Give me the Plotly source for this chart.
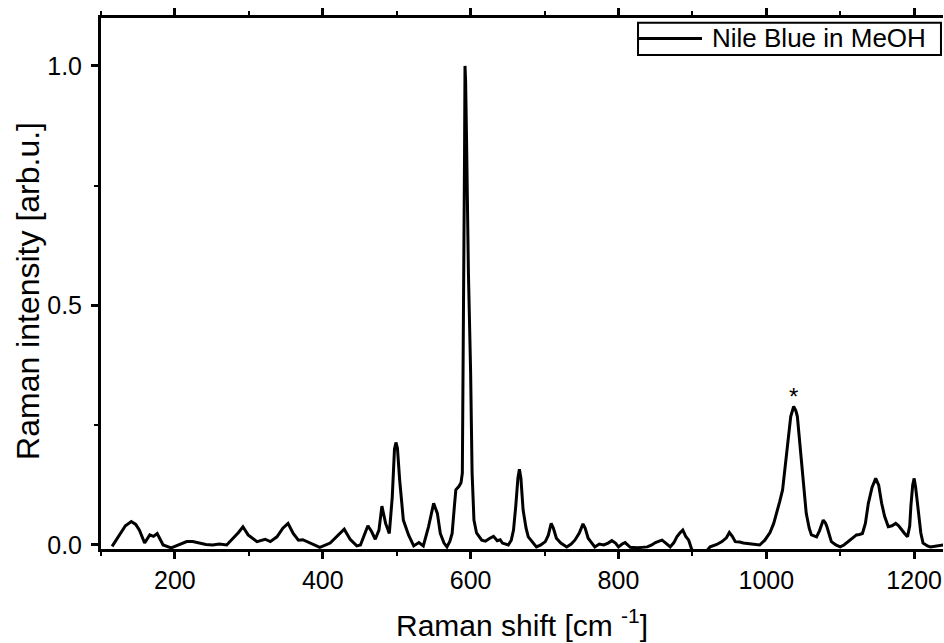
import plotly.graph_objects as go

series_name = "Nile Blue in MeOH"

raman_shift = [
    115, 125, 133, 141, 147, 152, 159, 166, 171, 176, 184, 195, 204, 210, 216, 224, 234, 242, 251, 260,
    270, 279, 286, 292, 299, 311, 322, 329, 338, 346, 353, 360, 367, 373, 383, 396, 410, 417, 429, 437,
    446, 451, 456, 461, 466, 471, 476, 480, 485, 490, 494, 497, 499, 501, 504, 509, 516, 523, 530, 536,
    543, 550, 555, 559, 564, 568, 572, 575, 578, 580, 584, 587, 588.8, 590, 591, 591.8, 592.4, 593.2, 594.5, 597,
    600, 602, 604.5, 608, 615, 620, 626, 631, 636, 640, 643, 651, 655, 658, 661, 664, 666, 668, 671, 675,
    678, 684, 689, 695, 701, 705, 709, 712, 716, 722, 730, 736, 741, 747, 752, 755, 759, 764, 768, 774,
    780, 786, 791, 796, 800, 805, 809, 816, 825, 832, 839, 845, 850, 855, 859, 864, 870, 875, 879, 883,
    887, 891, 895, 899, 905, 915, 924, 933, 940, 946, 950, 954, 958, 964, 969, 980, 991, 998, 1005, 1010,
    1014, 1018, 1022, 1027, 1030, 1033, 1037, 1040, 1042, 1045, 1048, 1051, 1054, 1058, 1061, 1068, 1072, 1077, 1080, 1082,
    1085, 1088, 1094, 1100, 1105, 1111, 1117, 1122, 1126, 1130, 1134, 1138, 1143, 1148, 1152, 1156, 1160, 1165, 1170, 1175,
    1179, 1183, 1187, 1191, 1194, 1195.5, 1198, 1200, 1202, 1206, 1209, 1212, 1218, 1222, 1230, 1240,
]

raman_intensity = [
    -0.003, 0.021, 0.040, 0.049, 0.043, 0.031, 0.004, 0.021, 0.018, 0.024, 0.000, -0.006, 0.000, 0.003, 0.007, 0.007, 0.004, 0.001, 0.000, 0.002,
    0.000, 0.014, 0.026, 0.038, 0.021, 0.007, 0.012, 0.007, 0.017, 0.035, 0.045, 0.024, 0.010, 0.011, 0.004, -0.005, 0.004, 0.014, 0.033, 0.012,
    -0.002, 0.000, 0.022, 0.040, 0.028, 0.012, 0.031, 0.081, 0.045, 0.024, 0.100, 0.200, 0.214, 0.202, 0.136, 0.052, 0.021, -0.002, 0.005, -0.002,
    0.038, 0.087, 0.066, 0.024, 0.004, -0.004, 0.008, 0.024, 0.080, 0.115, 0.122, 0.130, 0.150, 0.360, 0.570, 0.820, 1.000, 0.970, 0.845, 0.570,
    0.360, 0.150, 0.052, 0.025, 0.010, 0.008, 0.014, 0.018, 0.009, 0.011, 0.004, 0.000, 0.010, 0.031, 0.080, 0.140, 0.158, 0.140, 0.073, 0.035,
    0.017, 0.006, -0.004, 0.000, 0.007, 0.020, 0.045, 0.035, 0.014, 0.004, -0.004, 0.002, 0.010, 0.025, 0.044, 0.035, 0.014, 0.004, -0.004, 0.002,
    0.000, 0.004, 0.009, 0.004, -0.004, 0.002, 0.005, -0.005, -0.006, -0.005, -0.004, 0.000, 0.005, 0.008, 0.010, 0.004, -0.004, 0.005, 0.017, 0.025,
    0.031, 0.018, 0.010, -0.009, -0.020, -0.020, -0.004, 0.001, 0.007, 0.015, 0.026, 0.018, 0.007, 0.006, 0.004, 0.002, 0.000, 0.010, 0.026, 0.045,
    0.066, 0.090, 0.115, 0.184, 0.230, 0.268, 0.289, 0.280, 0.268, 0.220, 0.171, 0.110, 0.066, 0.035, 0.021, 0.017, 0.030, 0.052, 0.046, 0.038,
    0.020, 0.007, 0.000, -0.004, 0.000, 0.007, 0.014, 0.021, 0.022, 0.024, 0.045, 0.087, 0.120, 0.139, 0.125, 0.087, 0.060, 0.038, 0.040, 0.045,
    0.040, 0.031, 0.024, 0.017, 0.040, 0.080, 0.125, 0.139, 0.120, 0.066, 0.025, 0.004, -0.002, -0.004, -0.002, 0.000,
]

x_title = "Raman shift [cm <sup>-1</sup>]"
y_title = "Raman intensity [arb.u.]"
marker_label = "*"
marker_pos = (1037, 0.309)

FONT = "Liberation Sans, Arial, sans-serif"

fig = go.Figure()
fig.add_trace(go.Scatter(
    x=raman_shift, y=raman_intensity, mode="lines", name=series_name,
    line=dict(color="black", width=3), showlegend=False,
))

axis_common = dict(
    showline=True, linecolor="black", linewidth=3,
    ticks="outside", tickcolor="black", tickwidth=2.5, ticklen=7,
    showgrid=False, zeroline=False,
    tickfont=dict(family=FONT, size=25, color="black"),
)

fig.update_xaxes(
    **axis_common, range=[100, 1239], tick0=0, dtick=200, mirror="ticks",
    minor=dict(dtick=100, ticks="outside", ticklen=4, tickwidth=2, tickcolor="black"),
)
fig.update_yaxes(
    **axis_common, range=[-0.0084, 1.1], tick0=0, dtick=0.5, tickformat=".1f",
    ticklabelstandoff=4,
    minor=dict(dtick=0.25, ticks="outside", ticklen=4, tickwidth=2, tickcolor="black"),
)

# legend box drawn manually
fig.add_shape(type="rect", xref="paper", yref="paper", x0=0.6378, x1=0.9976, y0=0.9303, y1=0.9911,
              line=dict(color="black", width=2), fillcolor="white", layer="above")
fig.add_shape(type="line", xref="paper", yref="paper", x0=0.639, x1=0.7138, y0=0.9614, y1=0.9614,
              line=dict(color="black", width=3), layer="above")
fig.add_annotation(text=series_name, xref="paper", yref="paper", x=0.7233, y=0.9614,
                   xanchor="left", yanchor="middle", showarrow=False,
                   font=dict(family=FONT, size=26, color="black"))

fig.add_annotation(text=x_title, xref="paper", yref="paper", x=0.5, y=-0.14,
                   xanchor="center", yanchor="middle", showarrow=False,
                   font=dict(family=FONT, size=30, color="black"))
fig.add_annotation(text=y_title, xref="paper", yref="paper", x=-0.0867, y=0.486,
                   xanchor="center", yanchor="middle", textangle=-90, showarrow=False,
                   font=dict(family=FONT, size=32, color="black"))
fig.add_annotation(text=marker_label, x=marker_pos[0], y=marker_pos[1], xref="x", yref="y",
                   xanchor="center", yanchor="middle", showarrow=False,
                   font=dict(family=FONT, size=24, color="black"))

fig.update_layout(
    width=944, height=643,
    margin=dict(l=101, r=1, t=18, b=94, pad=0),
    paper_bgcolor="white", plot_bgcolor="white",
    font=dict(family=FONT, color="black"),
)

fig.write_html("out.html")
